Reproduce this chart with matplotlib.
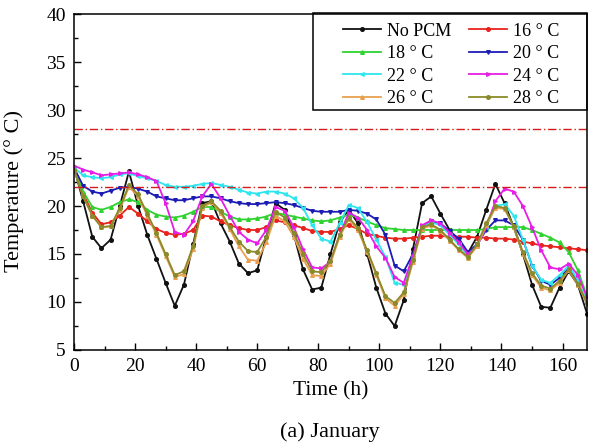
import matplotlib
matplotlib.use("Agg")
import matplotlib.pyplot as plt
from matplotlib.ticker import MultipleLocator
from matplotlib.patches import Rectangle

plt.rcParams['font.family'] = ['Liberation Serif', 'DejaVu Serif']

hours = list(range(0, 169, 3))

no_pcm = [24.0, 20.5, 16.8, 15.6, 16.5, 20.0, 23.6, 20.0, 17.0, 14.5, 12.0, 9.6, 11.8, 16.0, 20.3, 20.5,
          18.2, 16.3, 14.0, 13.0, 13.3, 16.8, 20.3, 19.6, 17.0, 13.4, 11.3, 11.5, 15.0, 18.3, 19.6, 18.2,
          15.0, 11.5, 8.8, 7.5, 10.2, 15.5, 20.3, 21.0, 19.2, 17.5, 16.2, 15.1, 16.8, 19.6, 22.3, 20.3,
          17.8, 15.0, 11.8, 9.5, 9.4, 11.5, 13.2, 11.8, 8.8]
pcm16 = [24.0, 21.3, 19.3, 18.1, 18.3, 19.0, 19.9, 19.2, 18.4, 17.6, 17.2, 17.0, 17.1, 17.5, 19.0, 18.9,
         18.4, 18.0, 17.7, 17.5, 17.5, 17.8, 18.5, 18.3, 18.0, 17.7, 17.4, 17.3, 17.3, 17.6, 18.0, 17.6,
         17.1, 16.9, 16.7, 16.6, 16.6, 16.7, 16.8, 16.9, 16.9, 16.8, 16.8, 16.8, 16.7, 16.7, 16.6, 16.6,
         16.5, 16.3, 16.1, 15.9, 15.8, 15.7, 15.6, 15.5, 15.4]
pcm18 = [24.0, 21.5, 19.9, 19.6, 19.9, 20.4, 20.7, 20.4, 19.6, 19.1, 18.9, 18.8, 19.0, 19.4, 19.9, 19.9,
         19.4, 18.9, 18.6, 18.6, 18.7, 18.9, 19.3, 19.1, 18.9, 18.7, 18.5, 18.4, 18.5, 18.8, 19.1, 18.8,
         18.4, 18.0, 17.7, 17.6, 17.5, 17.5, 17.5, 17.5, 17.5, 17.5, 17.5, 17.5, 17.5, 17.6, 17.8, 17.8,
         17.8, 17.8, 17.5, 17.1, 16.7, 16.2, 15.2, 13.3, 10.6]
pcm20 = [24.0, 22.1, 21.5, 21.3, 21.6, 21.9, 22.0, 21.8, 21.5, 21.0, 20.8, 20.6, 20.6, 20.8, 21.0, 21.0,
         20.8, 20.5, 20.3, 20.2, 20.2, 20.3, 20.4, 20.3, 20.1, 19.8, 19.5, 19.4, 19.4, 19.4, 19.6, 19.5,
         19.2, 18.6, 17.0, 13.8, 13.2, 15.0, 17.8, 18.4, 18.2, 17.4, 16.6, 15.2, 16.0, 17.5, 18.5, 18.5,
         18.0, 16.5, 13.8, 12.2, 11.8, 12.5, 13.5, 12.0, 9.8]
pcm22 = [24.0, 23.2, 23.0, 22.9, 23.0, 23.3, 23.4, 23.1, 22.9, 22.6, 22.2, 22.0, 22.0, 22.1, 22.3, 22.4,
         22.2, 22.0, 21.7, 21.4, 21.3, 21.5, 21.5, 21.3, 20.8, 19.8, 18.0, 16.6, 16.3, 18.2, 20.1, 19.8,
         18.3, 16.5, 14.7, 12.0, 11.8, 14.5, 17.8, 18.3, 18.0, 17.0, 16.0, 14.8, 15.8, 17.8, 20.0, 20.2,
         19.0, 16.5, 13.8, 12.3, 12.0, 12.8, 13.8, 12.3, 10.0]
pcm24 = [24.2, 23.8, 23.5, 23.2, 23.3, 23.4, 23.5, 23.3, 23.0, 22.6, 20.3, 17.3, 17.0, 18.4, 21.0, 22.3,
         20.8, 19.0, 17.3, 16.5, 16.1, 17.5, 19.9, 19.5, 17.8, 15.5, 13.6, 13.5, 14.2, 17.0, 19.3, 18.8,
         17.5, 15.8, 14.6, 12.6, 12.0, 14.8, 18.0, 18.5, 18.2, 17.2, 16.2, 15.0, 15.8, 17.8, 20.5, 21.8,
         21.5, 20.0, 17.8, 15.4, 13.6, 13.4, 14.0, 12.8, 10.5]
pcm26 = [23.8, 21.0, 19.0, 17.8, 17.9, 19.6, 22.0, 21.0, 19.0, 17.0, 14.8, 12.6, 12.9, 15.5, 19.8, 20.4,
         19.3, 17.6, 15.8, 14.4, 14.3, 16.2, 19.0, 18.4, 16.8, 14.5, 12.8, 12.7, 14.0, 16.8, 18.6, 17.5,
         15.2, 12.8, 10.4, 9.6, 10.8, 14.2, 17.6, 18.0, 17.4, 16.4, 15.4, 14.6, 15.8, 18.0, 19.8, 19.7,
         17.8, 15.0, 12.8, 11.5, 11.2, 12.0, 13.3, 11.8, 9.8]
pcm28 = [23.8, 21.0, 19.0, 17.8, 17.9, 19.8, 22.2, 21.2, 19.2, 17.2, 15.0, 12.8, 13.2, 15.8, 20.0, 20.5,
         19.5, 17.8, 16.3, 15.3, 15.2, 16.8, 19.4, 18.8, 17.2, 15.0, 13.2, 13.1, 14.3, 17.0, 18.8, 17.7,
         15.4, 13.0, 10.6, 9.9, 11.0, 14.4, 17.8, 18.1, 17.5, 16.5, 15.5, 14.7, 16.0, 18.2, 20.0, 19.8,
         17.9, 15.2, 13.0, 11.7, 11.4, 12.2, 13.4, 11.9, 9.9]

labels = ['No PCM', '16 ° C', '18 ° C', '20 ° C', '22 ° C', '24 ° C', '26 ° C', '28 ° C']
series = [no_pcm, pcm16, pcm18, pcm20, pcm22, pcm24, pcm26, pcm28]
colors = ['#111111', '#e8231e', '#2fd22f', '#1c1cb4', '#2fe6ee', '#e61ee6', '#e8a050', '#8a8a2a']
markers = ['o', 'o', '^', 'v', '<', '>', '^', 'o']
comfort_levels = [28, 22]

fig = plt.figure(figsize=(5.89, 4.45), dpi=100)
ax = fig.add_axes([0.1256, 0.2135, 0.871, 0.755])

handles = []
for y, lab, c, m in zip(series, labels, colors, markers):
    h, = ax.plot(hours, y, color=c, lw=1.3, marker=m, ms=2.6, mec=c, mfc=c, label=lab)
    handles.append(h)

for lvl in comfort_levels:
    ax.axhline(lvl, color='#d41c1c', lw=1.0, ls=(0, (6, 2, 1, 2)))

ax.set_xlim(0, 168)
ax.set_ylim(5, 40)
ax.xaxis.set_major_locator(MultipleLocator(20))
ax.xaxis.set_minor_locator(MultipleLocator(10))
ax.yaxis.set_major_locator(MultipleLocator(5))
ax.yaxis.set_minor_locator(MultipleLocator(2.5))
ax.tick_params(which='both', direction='in', top=False, right=False, labelsize=14, pad=6)
ax.tick_params(which='major', length=5, width=1)
ax.tick_params(which='minor', length=3, width=1)
for s in ax.spines.values():
    s.set_linewidth(1.1)

ax.set_xlabel('Time (h)', fontsize=15.5, labelpad=4)
ax.set_ylabel('Temperature (° C)', fontsize=16)
ax.yaxis.set_label_coords(-0.097, 0.473)

order = [0, 2, 4, 6, 1, 3, 5, 7]
leg = ax.legend([handles[i] for i in order], [labels[i] for i in order], ncol=2,
                loc='upper left', bbox_to_anchor=(0.524, 0.974), borderaxespad=0.0,
                borderpad=0.0, fontsize=13, frameon=False,
                handlelength=2.1, handletextpad=0.33, columnspacing=1.0,
                labelspacing=0.3)
ax.add_patch(Rectangle((0.466, 0.714), 0.534, 0.288, transform=ax.transAxes,
                       fill=False, edgecolor='black', lw=1.1, clip_on=False, zorder=5))

fig.text(0.56, 0.03, '(a) January', ha='center', va='center', fontsize=16)

fig.savefig('out.png', dpi=100)
